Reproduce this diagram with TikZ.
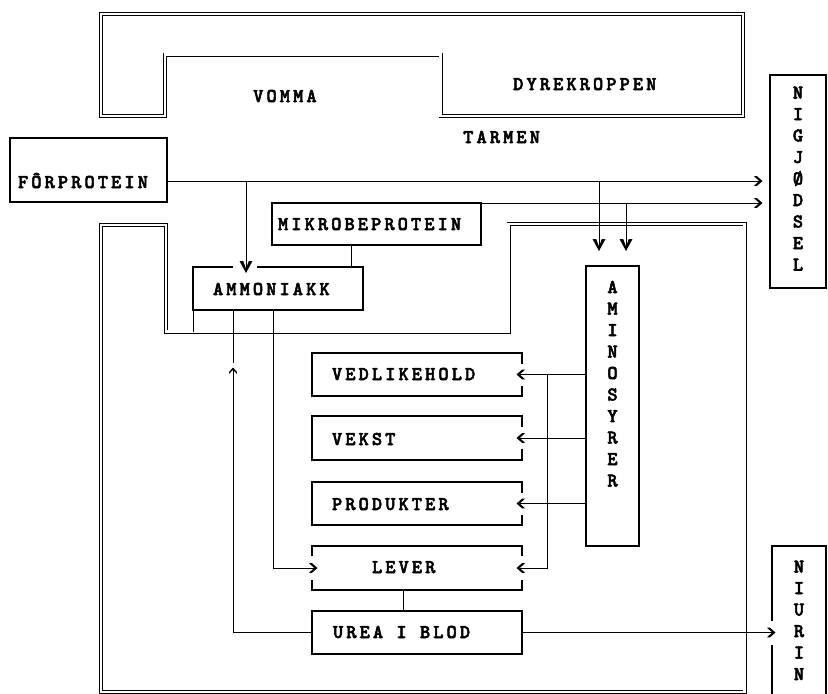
\documentclass[tikz,border=0pt]{standalone}
\usepackage{fontspec}
\usetikzlibrary{calc,decorations.markings}
\newfontfamily\typ{lmmonolt10-bold.otf}[LetterSpace=15.7,FakeBold=2.6]
\newcommand\lblfont{\typ\fontsize{19.5}{21.5}\selectfont}
\newcommand\gapsp{\hspace*{13.3pt}}
\begin{document}
\begin{tikzpicture}[x=1pt,y=-1pt,
  frame/.style={draw, double=white, double distance=2.4pt, line width=0.8pt, line join=miter},
  gbox/.style={line width=1.1pt, inner ysep=0pt, outer sep=0pt, align=left, font=\lblfont, anchor=north west},
  box/.style={gbox, draw},
  plain/.style={inner sep=0pt, font=\lblfont, anchor=base west},
  edge/.style={line width=1.1pt},
  conn/.style={line width=1pt},
  tipR/.style={postaction={decorate, decoration={markings,
      mark=at position 1 with {\fill (0.5pt,0pt) -- (-5pt,-4.8pt) -- (-8pt,-4.8pt) -- (-2.8pt,0pt) -- (-8pt,4.8pt) -- (-5pt,4.8pt) -- cycle;}}}},
  tipV/.style={postaction={decorate, decoration={markings,
      mark=at position 1 with {\fill (1pt,0pt) -- (-11pt,-6.5pt) -- (-11pt,-2.8pt) -- (-3.5pt,0pt) -- (-11pt,2.8pt) -- (-11pt,6.5pt) -- cycle;}}}},
  tipU/.style={postaction={decorate, decoration={markings,
      mark=at position 1 with {\fill (0.5pt,0pt) -- (-3.8pt,-3.8pt) -- (-5.8pt,-3.8pt) -- (-1.8pt,0pt) -- (-5.8pt,3.8pt) -- (-3.8pt,3.8pt) -- cycle;}}}},
]
\useasboundingbox (0,0) rectangle (828,694);
\clip (0,0) rectangle (828,694);

% frames
\draw[frame] (101,14) -- (743,14) -- (743,116) -- (440.5,116) -- (440.5,54.5) -- (165,54.5) -- (165,116) -- (101,116) -- cycle;
\draw[frame] (101,225) -- (166,225) -- (166,331.5) -- (508.5,331.5) -- (508.5,224) -- (744.5,224) -- (744.5,692) -- (101,692) -- cycle;
\coordinate (notch) at (0,331.5);

% region labels
\node[plain] (vomma) at (253,102) {VOMMA};
\node[plain] (dyre) at (513,90) {DYREKROPPEN};
\node[plain] (tarmen) at (463,143) {TARMEN};

% boxes
\node[box, text width=141pt, inner xsep=8pt, text height=50pt, text depth=14pt] (fp) at (10,138) {FÔRPROTEIN};
\node[box, text width=197pt, inner xsep=6pt, text height=27pt, text depth=15pt] (mb) at (272,203) {MIKROBEPROTEIN};
\node[gbox, text width=130pt, inner xsep=20pt, text height=28pt, text depth=15pt] (am) at (193,267) {AMMONIAKK};
\node[gbox, text width=170pt, inner xsep=20pt, text height=27pt, text depth=16pt] (ve) at (312,353) {VEDLIKEHOLD};
\node[gbox, text width=170pt, inner xsep=20pt, text height=29pt, text depth=15pt] (vk) at (312,416) {VEKST};
\node[gbox, text width=170pt, inner xsep=20pt, text height=28pt, text depth=15pt] (pr) at (312,482) {PRODUKTER};
\node[gbox, text width=90pt, inner xsep=60pt, text height=27pt, text depth=17pt] (lv) at (312,546) {LEVER};
\node[box, text width=168pt, inner xsep=21pt, text height=27pt, text depth=16pt] (ub) at (312,611) {UREA\gapsp I\gapsp BLOD};
\node[box, text width=53pt, inner xsep=0pt, align=center, text height=27pt, text depth=253pt] (am2) at (586,266) {A\\M\\I\\N\\O\\S\\Y\\R\\E\\R};
\node[box, text width=56pt, inner xsep=0pt, align=center, text height=23.5pt, text depth=189.5pt] (ng) at (770,75) {N\\I\\G\\J\\Ø\\D\\S\\E\\L};
\node[gbox, text width=54pt, inner xsep=0pt, align=center, text height=26.5pt, text depth=160pt] (nu) at (772,546) {N\\I\\U\\R\\I\\N};

% box outlines with gaps
\draw[edge] ($(am.north west)+(40,0)$) -- (am.north west) -- (am.south west) -- (am.south east) -- (am.north east) -- ($(am.north west)+(64,0)$);
\foreach \bx in {ve,vk,pr}
  \draw[edge] ($(\bx.east)+(0,-11)$) |- (\bx.north west) |- (\bx.south east) -- ($(\bx.east)+(0,11)$);
\draw[edge] ($(lv.west)+(0,-12)$) |- (lv.north east) -- ($(lv.east)+(0,-12)$);
\draw[edge] ($(lv.west)+(0,12)$) |- (lv.south east) -- ($(lv.east)+(0,12)$);
\draw[edge] ($(nu.west |- ub.east)+(0,-12)$) |- (nu.north east) -- (nu.south east) -- (nu.south west) -- ($(nu.west |- ub.east)+(0,12)$);

% connectors
\coordinate (l1) at ($(fp.north east)+(0,43)$);
\draw[conn,tipR] (l1) -- ($(l1 -| ng.west)+(-8,0)$);
\draw[conn,tipR] (mb.north east) -- ($(mb.north east -| ng.west)+(-8,0)$);
\draw[conn,tipV] ($(l1 -| am2.north)+(-13.5,0)$) -- ($(am2.north)+(-13.5,-16)$);
\draw[conn,tipV] ($(mb.north east -| am2.north)+(13.5,0)$) -- ($(am2.north)+(13.5,-16)$);
\coordinate (amv) at ($(am.north west)+(53,0)$);
\draw[conn,tipV] (l1 -| amv) -- ($(amv)+(0,5)$);
\coordinate (xm) at (351,0);
\draw[conn] (mb.south -| xm) -- (am.north -| xm);
\draw[conn] (am.south west) -- (am.south west |- notch);
\coordinate (xa) at ($(am.south west)+(80,0)$);
\draw[conn,tipR] (xa) |- ($(lv.west)+(5,0)$);
\coordinate (xb) at ($(am.south west)+(40,0)$);
\draw[conn,tipU] (ub.west) -| ($(xb)+(0,58)$);
\draw[conn] (xb) -- ($(xb)+(0,53)$);
\foreach \bx in {ve,vk,pr}
  \draw[conn,tipR] (am2.west |- \bx.east) -- ($(\bx.east)+(-5,0)$);
\draw[conn,tipR] ($(ve.east)+(25,0)$) |- ($(lv.east)+(-5,0)$);
\coordinate (xl) at ($(lv.south west)+(91,0)$);
\draw[conn] (xl) -- (xl |- ub.north);
\draw[conn,tipR] (ub.east) -- ($(nu.west |- ub.east)+(3,0)$);
\end{tikzpicture}
\end{document}
